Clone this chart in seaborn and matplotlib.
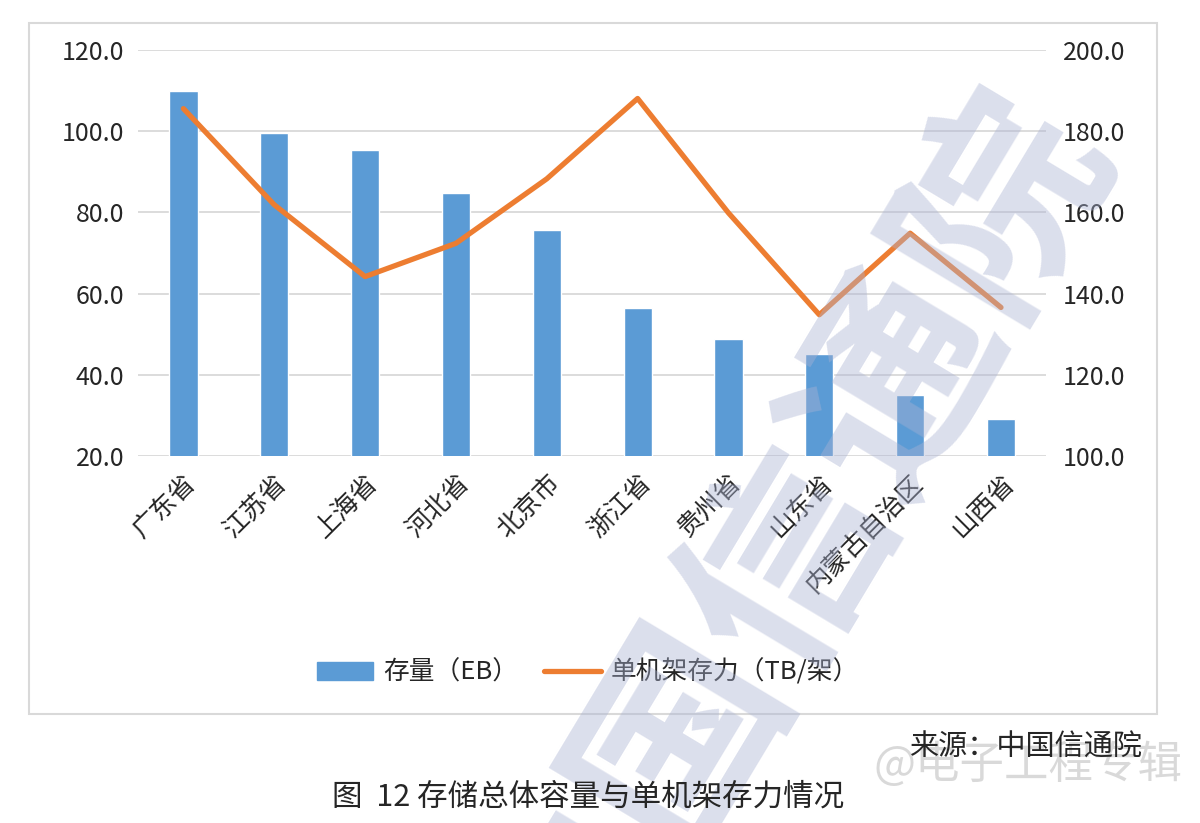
import matplotlib
matplotlib.use('Agg')

import matplotlib.pyplot as plt
import matplotlib.patches as mpatches
import matplotlib.lines as mlines
import seaborn as sns
import numpy as np
import pandas as pd

# 数据
provinces = ['广东省', '江苏省', '上海省', '河北省', '北京市',
             '浙江省', '贵州省', '山东省', '内蒙古自治区', '山西省']
storage_eb = [110.0, 99.6, 95.3, 84.9, 75.8, 56.5, 48.9, 45.1, 35.1, 29.1]
rack_tb = [185.6, 161.9, 144.2, 152.4, 168.3, 188.1, 159.9, 134.8, 154.9, 136.6]

left_ticks = [20, 40, 60, 80, 100, 120]
right_ticks = [100, 120, 140, 160, 180, 200]

sns.set_style('white')
plt.rcParams['font.family'] = ['Noto Sans CJK SC', 'DejaVu Sans']
plt.rcParams['axes.unicode_minus'] = False

BLUE = '#5b9bd5'
ORANGE = '#ed7d31'

df = pd.DataFrame({'省份': provinces, '存量': storage_eb, '存力': rack_tb})

fig = plt.figure(figsize=(12, 8.23), dpi=100)
ax = fig.add_axes([0.115, 0.446, 0.757, 0.493])

# 外框
frame = mpatches.Rectangle((0.024, 0.132), 0.940, 0.840, transform=fig.transFigure,
                           fill=False, edgecolor='#d9d9d9', lw=1.5)
fig.patches.append(frame)

sns.barplot(data=df, x='省份', y='存量', color=BLUE, width=0.31,
            saturation=1, ax=ax, zorder=3)
ax.set_ylim(20, 120)
ax.set_yticks(left_ticks)
ax.set_yticklabels([f'{v:.1f}' for v in left_ticks], fontsize=18)
ax.set_xlim(-0.5, len(provinces) - 0.5)
ax.grid(True, axis='y', color='#d9d9d9', lw=1.3, zorder=0)
ax.set_xlabel('')
ax.set_ylabel('')
for s in ax.spines.values():
    s.set_visible(False)
ax.tick_params(axis='both', length=0, pad=10)
ax.set_xticks(range(len(provinces)))
ax.set_xticklabels(provinces, rotation=45, ha='right', rotation_mode='anchor',
                   fontsize=18.5)

ax2 = ax.twinx()
sns.lineplot(x=np.arange(len(provinces)), y=rack_tb, color=ORANGE, lw=3.8,
             ax=ax2, zorder=4)
ax2.set_ylim(100, 200)
ax2.set_yticks(right_ticks)
ax2.set_yticklabels([f'{v:.1f}' for v in right_ticks], fontsize=18)
ax2.tick_params(axis='y', length=0, pad=12)
for s in ax2.spines.values():
    s.set_visible(False)
ax2.set_xlim(-0.5, len(provinces) - 0.5)

# 图例
handles = [mpatches.Patch(color=BLUE, label='存量（EB）'),
           mlines.Line2D([], [], color=ORANGE, lw=3.8, label='单机架存力（TB/架）')]
fig.legend(handles=handles, loc='center', bbox_to_anchor=(0.49, 0.183), ncol=2,
           frameon=False, fontsize=18.5, handlelength=2.2, columnspacing=1.0,
           handletextpad=0.4)

# 水印
fig.text(0.655, 0.33, '中国信通院', fontsize=150, fontweight='bold', color='#aab3d3',
         alpha=0.42, rotation=59, ha='center', va='center', zorder=10)
fig.text(0.857, 0.070, '@电子工程专辑', fontsize=32, color='#d3d3d3', alpha=0.85,
         ha='center', va='center', zorder=9)

# 来源与标题
fig.text(0.952, 0.091, '来源：中国信通院', fontsize=21, ha='right', va='center', zorder=11)
fig.text(0.49, 0.032, '图  12 存储总体容量与单机架存力情况', fontsize=22,
         ha='center', va='center', zorder=11)

fig.savefig('out.png', dpi=100)
plt.close(fig)
